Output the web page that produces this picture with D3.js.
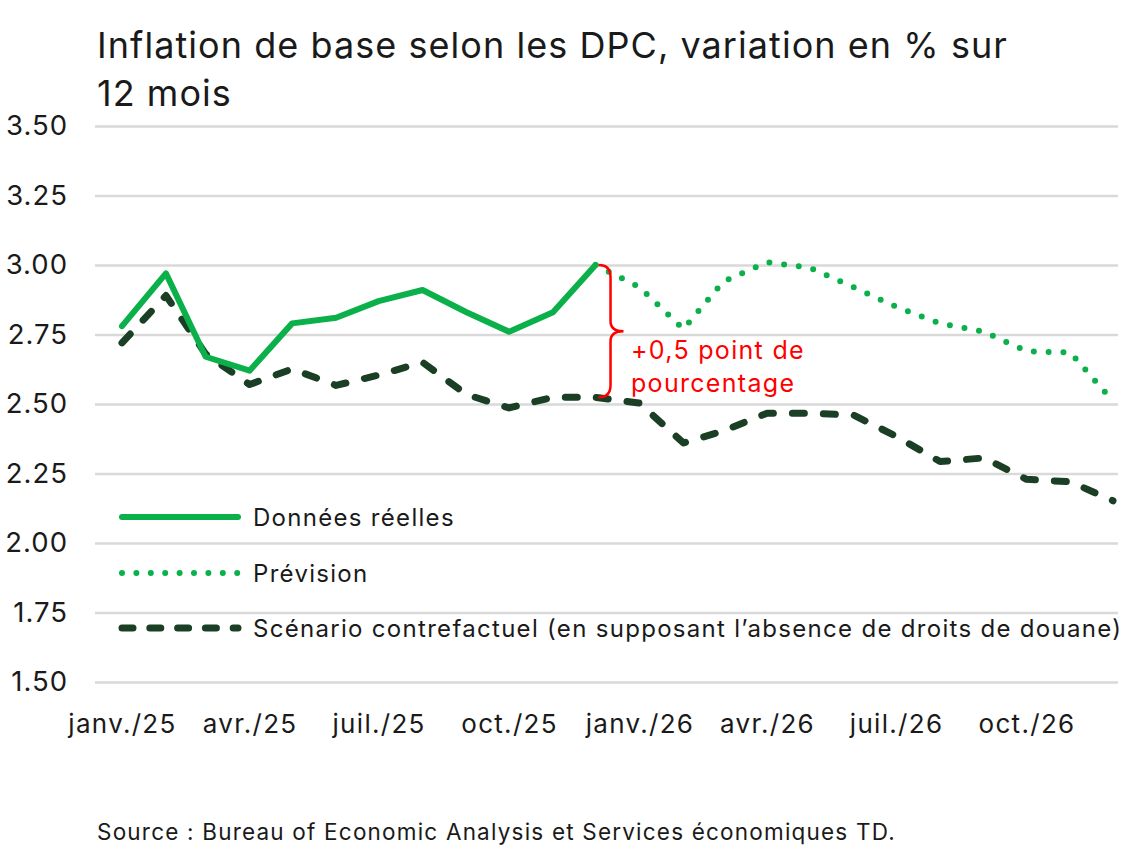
<!DOCTYPE html>
<html>
<head>
<meta charset="utf-8">
<script src="https://cdn.jsdelivr.net/npm/d3@7"></script>
<style>
  body { margin: 0; background: #fff; }
  svg { font-family: Inter, "Noto Sans", sans-serif; }
  .grid line { stroke: #d9d9d9; stroke-width: 2.5; }
  .grid path { display: none; }
  .axis path, .axis line { display: none; }
  .axis text { fill: #1a1a1a; }
</style>
</head>
<body>
<svg class="chart" width="1139" height="850"></svg>
<script>
// months shown on the chart (monthly data, janv. 2025 -> déc. 2026)
var months = ["2025-01","2025-02","2025-03","2025-04","2025-05","2025-06","2025-07","2025-08","2025-09","2025-10","2025-11","2025-12",
              "2026-01","2026-02","2026-03","2026-04","2026-05","2026-06","2026-07","2026-08","2026-09","2026-10","2026-11","2026-12"];

// actual core PCE, janv. -> déc. 2025
var actual = [2.78, 2.97, 2.67, 2.62, 2.79, 2.81, 2.87, 2.91, 2.83, 2.76, 2.83, 3.00];

// forecast, déc. 2025 -> déc. 2026
var forecast = [3.00, 2.92, 2.77, 2.94, 3.01, 2.99, 2.92, 2.85, 2.79, 2.76, 2.69, 2.685, 2.51];

// counterfactual without tariffs, janv. 2025 -> déc. 2026
var counterfactual = [2.72, 2.89, 2.68, 2.57, 2.626, 2.567, 2.604, 2.65, 2.534, 2.486, 2.524, 2.524,
                      2.503, 2.36, 2.403, 2.467, 2.467, 2.46, 2.384, 2.293, 2.306, 2.229, 2.22, 2.152];

var yTicks = [1.50, 1.75, 2.00, 2.25, 2.50, 2.75, 3.00, 3.25, 3.50];
var xTickMonths = ["2025-01","2025-04","2025-07","2025-10","2026-01","2026-04","2026-07","2026-10"];
var xTickLabels = ["janv./25","avr./25","juil./25","oct./25","janv./26","avr./26","juil./26","oct./26"];

var legendLabels = ["Données réelles", "Prévision", "Scénario contrefactuel (en supposant l\u2019absence de droits de douane)"];

var green = "#0bb04b", darkGreen = "#1a3f24", red = "#ff0000", ink = "#1a1a1a";

var svg = d3.select(".chart");
var parseMonth = d3.timeParse("%Y-%m");
var dates = months.map(parseMonth);

var x = d3.scaleTime().domain([dates[0], dates[dates.length - 1]]).range([122, 1113]);
var y = d3.scaleLinear().domain([1.5, 3.5]).range([682, 126]);

// title
svg.append("text").attr("x", 97).attr("y", 58).attr("font-size", 36).attr("letter-spacing", 1.05)
    .attr("fill", ink).text("Inflation de base selon les DPC, variation en % sur");
svg.append("text").attr("x", 97).attr("y", 106).attr("font-size", 36).attr("letter-spacing", 1.05)
    .attr("fill", ink).text("12 mois");

// gridlines
svg.append("g")
    .attr("class", "grid")
    .attr("transform", "translate(95,0)")
    .call(d3.axisLeft(y).tickValues(yTicks).tickSize(-1023).tickFormat(""));

// y axis labels
svg.append("g")
    .attr("class", "axis")
    .attr("transform", "translate(95,0)")
    .call(d3.axisLeft(y).tickValues(yTicks).tickSize(0).tickPadding(27).tickFormat(d3.format(".2f")))
  .selectAll("text")
    .attr("font-size", 27.5)
    .attr("letter-spacing", 1)
    .attr("font-family", "Inter, sans-serif");

// x axis labels
svg.append("g")
    .attr("class", "axis")
    .attr("transform", "translate(0,705)")
    .call(d3.axisBottom(x).tickValues(xTickMonths.map(parseMonth)).tickSize(0).tickPadding(10)
        .tickFormat(function(d, i) { return xTickLabels[i]; }))
  .selectAll("text")
    .attr("font-size", 26)
    .attr("letter-spacing", 1.3)
    .attr("font-family", "Inter, sans-serif");

var line = d3.line()
    .x(function(d) { return x(d.date); })
    .y(function(d) { return y(d.value); });

function series(values, start) {
  return values.map(function(v, i) { return {date: dates[start + i], value: v}; });
}

// counterfactual (dashed)
svg.append("path")
    .datum(series(counterfactual, 0))
    .attr("fill", "none")
    .attr("stroke", darkGreen)
    .attr("stroke-width", 7)
    .attr("stroke-linecap", "round")
    .attr("stroke-linejoin", "round")
    .attr("stroke-dasharray", "12 19")
    .attr("d", line);

// forecast (dotted)
svg.append("path")
    .datum(series(forecast, 11))
    .attr("fill", "none")
    .attr("stroke", green)
    .attr("stroke-width", 6)
    .attr("stroke-linecap", "round")
    .attr("stroke-dasharray", "0 14.8")
    .attr("d", line);

// actual (solid)
svg.append("path")
    .datum(series(actual, 0))
    .attr("fill", "none")
    .attr("stroke", green)
    .attr("stroke-width", 6)
    .attr("stroke-linecap", "round")
    .attr("stroke-linejoin", "round")
    .attr("d", line);

// brace annotation between forecast and counterfactual in déc. 2025
var bx = x(dates[11]) + 3,
    yTop = y(forecast[0]),
    yBot = y(counterfactual[11]),
    yMid = (yTop + yBot) / 2;
svg.append("path")
    .attr("fill", "none")
    .attr("stroke", red)
    .attr("stroke-width", 2.5)
    .attr("d", "M" + bx + "," + yTop +
        " Q" + (bx + 12) + "," + yTop + " " + (bx + 12) + "," + (yTop + 12) +
        " L" + (bx + 12) + "," + (yMid - 10) +
        " Q" + (bx + 12) + "," + yMid + " " + (bx + 25) + "," + yMid +
        " Q" + (bx + 12) + "," + yMid + " " + (bx + 12) + "," + (yMid + 10) +
        " L" + (bx + 12) + "," + (yBot - 12) +
        " Q" + (bx + 12) + "," + yBot + " " + bx + "," + yBot);
svg.append("text").attr("x", 631).attr("y", 359).attr("font-size", 25).attr("letter-spacing", 1.3)
    .attr("fill", red).text("+0,5 point de");
svg.append("text").attr("x", 631).attr("y", 392).attr("font-size", 25).attr("letter-spacing", 1.3)
    .attr("fill", red).text("pourcentage");

// legend
var legendY = [517, 573, 628];
var legendStyles = [
  {stroke: green, width: 6, dash: null},
  {stroke: green, width: 6, dash: "0 14.4"},
  {stroke: darkGreen, width: 7, dash: "11 16.8"}
];
legendLabels.forEach(function(label, i) {
  var s = legendStyles[i];
  var l = svg.append("line")
      .attr("x1", 122).attr("x2", 238)
      .attr("y1", legendY[i]).attr("y2", legendY[i])
      .attr("stroke", s.stroke).attr("stroke-width", s.width).attr("stroke-linecap", "round");
  if (s.dash) l.attr("stroke-dasharray", s.dash);
  svg.append("text").attr("x", 253).attr("y", legendY[i] + 9).attr("font-size", 24)
      .attr("letter-spacing", 1.3).attr("fill", ink).text(label);
});

// source
svg.append("text").attr("x", 97).attr("y", 840).attr("font-size", 22.5).attr("letter-spacing", 1.2)
    .attr("fill", ink).text("Source : Bureau of Economic Analysis et Services économiques TD.");
</script>
</body>
</html>
